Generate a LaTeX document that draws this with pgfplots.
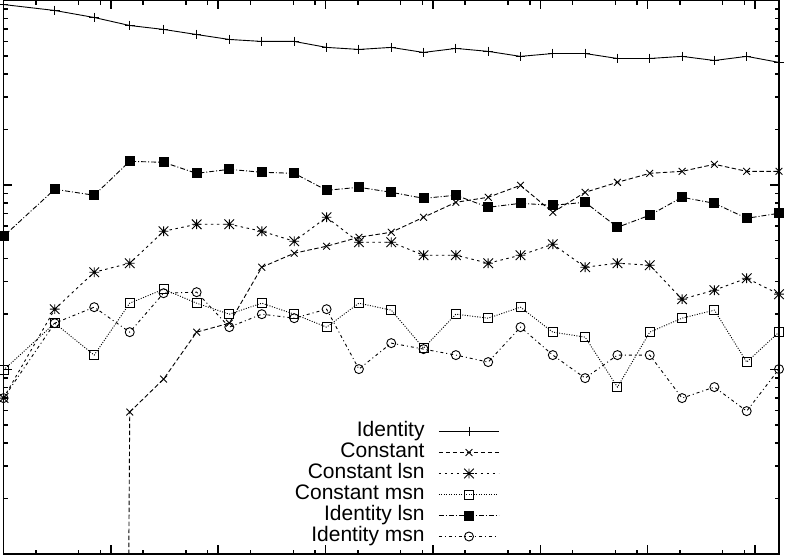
\documentclass[border=0pt]{standalone}
\usepackage{fontspec}
\setmainfont{Liberation Sans}
\usepackage{pgfplots}
\pgfplotsset{compat=1.18}
\pgfdeclareplotmark{gpstar}{%
  \pgfpathmoveto{\pgfqpoint{-\pgfplotmarksize}{0pt}}\pgfpathlineto{\pgfqpoint{\pgfplotmarksize}{0pt}}%
  \pgfpathmoveto{\pgfqpoint{0pt}{-\pgfplotmarksize}}\pgfpathlineto{\pgfqpoint{0pt}{\pgfplotmarksize}}%
  \pgfpathmoveto{\pgfqpoint{-\pgfplotmarksize}{-\pgfplotmarksize}}\pgfpathlineto{\pgfqpoint{\pgfplotmarksize}{\pgfplotmarksize}}%
  \pgfpathmoveto{\pgfqpoint{-\pgfplotmarksize}{\pgfplotmarksize}}\pgfpathlineto{\pgfqpoint{\pgfplotmarksize}{-\pgfplotmarksize}}%
  \pgfusepathqstroke}
\begin{document}
\begin{tikzpicture}
\begin{axis}[
  scale only axis, width=775.5pt, height=553.5pt,
  xmode=log, ymode=log,
  xmin=1, xmax=16777216, ymin=0.01, ymax=10,
  xtick={1,10,100,1000,10000,100000,1000000,10000000},
  minor xtick={2,5,8,20,50,80,200,500,800,2000,5000,8000,20000,50000,80000,200000,500000,800000,2000000,5000000,8000000},
  ytick={0.01,0.1,1,10},
  minor ytick={0.02,0.03,0.04,0.05,0.06,0.07,0.08,0.09,0.2,0.3,0.4,0.5,0.6,0.7,0.8,0.9,2,3,4,5,6,7,8,9},
  xticklabels={}, yticklabels={},
  tick align=inside, major tick length=9pt, minor tick length=4.5pt,
  every tick/.style={black, line width=1.4pt},
  axis line style={line width=1.5pt},
  every axis plot/.append style={line width=0.9pt, black},
  legend plot pos=right,
  legend cell align=right,
  legend image code/.code={\draw[mark repeat=2,mark phase=2] plot coordinates {(0pt,0pt) (30pt,0pt) (60pt,0pt)};},
  legend style={draw=none, fill=none, at={(0.6395,0.2403)}, anchor=north east,
    font=\fontsize{21pt}{21pt}\selectfont, inner sep=0pt, outer sep=0pt,
    row sep=0pt, column sep=14pt,
    nodes={inner sep=0pt, text height=15pt, text depth=6pt}},
]
% Identity
\addplot[solid, mark=+, mark size=4.8pt, mark options={solid}] coordinates {
(1,9.51) (3,8.83) (7,8.09) (15,7.32) (31,6.97) (63,6.54) (127,6.15) (255,6.00)
(511,6.00) (1023,5.57) (2047,5.43) (4095,5.57) (8191,5.23) (16383,5.50) (32767,5.30) (65535,4.98)
(131071,5.16) (262143,5.16) (524287,4.85) (1048575,4.85) (2097151,4.98) (4194303,4.73) (8388607,4.98) (16777215,4.62)};
\addlegendentry{Identity}
% Constant: segment from the point below the range
\addplot[dash pattern=on 4.5pt off 2.5pt, forget plot] coordinates {(7,1e-30) (15,0.0588)};
% Constant
\addplot[dash pattern=on 4.5pt off 2.5pt, mark=x, mark size=4.8pt, mark options={solid}] coordinates {
(15,0.0588) (31,0.0887) (63,0.1594) (127,0.1783) (255,0.3585)
(511,0.4268) (1023,0.4657) (2047,0.521) (4095,0.5545) (8191,0.6685) (16383,0.806) (32767,0.858) (65535,0.996)
(131071,0.711) (262143,0.913) (524287,1.034) (1048575,1.157) (2097151,1.186) (4194303,1.295) (8388607,1.186) (16777215,1.186)};
\addlegendentry{Constant}
% Constant lsn
\addplot[dash pattern=on 2.5pt off 3.5pt, mark=gpstar, mark size=4.8pt, mark options={solid}] coordinates {
(1,0.070) (3,0.2123) (7,0.3368) (15,0.3768) (31,0.5615) (63,0.6126) (127,0.6126) (255,0.5615)
(511,0.4957) (1023,0.6685) (2047,0.4896) (4095,0.4896) (8191,0.4164) (16383,0.4164) (32767,0.3768) (65535,0.4164)
(131071,0.4775) (262143,0.3585) (524287,0.3768) (1048575,0.3675) (2097151,0.2405) (4194303,0.2690) (8388607,0.3125) (16777215,0.2560)};
\addlegendentry{Constant lsn}
% Constant msn
\addplot[dash pattern=on 1pt off 1.5pt, mark=square, mark size=4.5pt, mark options={solid}] coordinates {
(1,0.0993) (3,0.1783) (7,0.1197) (15,0.2288) (31,0.2724) (63,0.2288) (127,0.1995) (255,0.2288)
(511,0.1995) (1023,0.1697) (2047,0.2288) (4095,0.2098) (8191,0.1305) (16383,0.1995) (32767,0.1898) (65535,0.2177)
(131071,0.1594) (262143,0.1498) (524287,0.0803) (1048575,0.1594) (2097151,0.1898) (4194303,0.2098) (8388607,0.1097) (16777215,0.1594)};
\addlegendentry{Constant msn}
% Identity lsn
\addplot[dash pattern=on 5pt off 2pt on 1pt off 2pt, mark=square*, mark size=4.5pt, mark options={solid}] coordinates {
(1,0.527) (3,0.948) (7,0.880) (15,1.344) (31,1.327) (63,1.157) (127,1.216) (255,1.172)
(511,1.157) (1023,0.936) (2047,0.972) (4095,0.913) (8191,0.847) (16383,0.880) (32767,0.757) (65535,0.796)
(131071,0.776) (262143,0.806) (524287,0.590) (1048575,0.686) (2097151,0.858) (4194303,0.796) (8388607,0.660) (16777215,0.703)};
\addlegendentry{Identity lsn}
% Identity msn
\addplot[dash pattern=on 3pt off 3pt on 1pt off 3pt, mark=o, mark size=4.5pt, mark options={solid}] coordinates {
(1,0.070) (3,0.1783) (7,0.2177) (15,0.1594) (31,0.2592) (63,0.2625) (127,0.1697) (255,0.1995)
(511,0.1898) (1023,0.2123) (2047,0.1005) (4095,0.1390) (8191,0.1290) (16383,0.1197) (32767,0.1097) (65535,0.1697)
(131071,0.1197) (262143,0.0898) (524287,0.1197) (1048575,0.1197) (2097151,0.070) (4194303,0.0803) (8388607,0.0595) (16777215,0.1005)};
\addlegendentry{Identity msn}
\end{axis}
\pgfresetboundingbox
\path (current axis.south west) ++(-3.5pt,-1pt) rectangle ++(785pt,555pt);
\end{tikzpicture}
\end{document}
